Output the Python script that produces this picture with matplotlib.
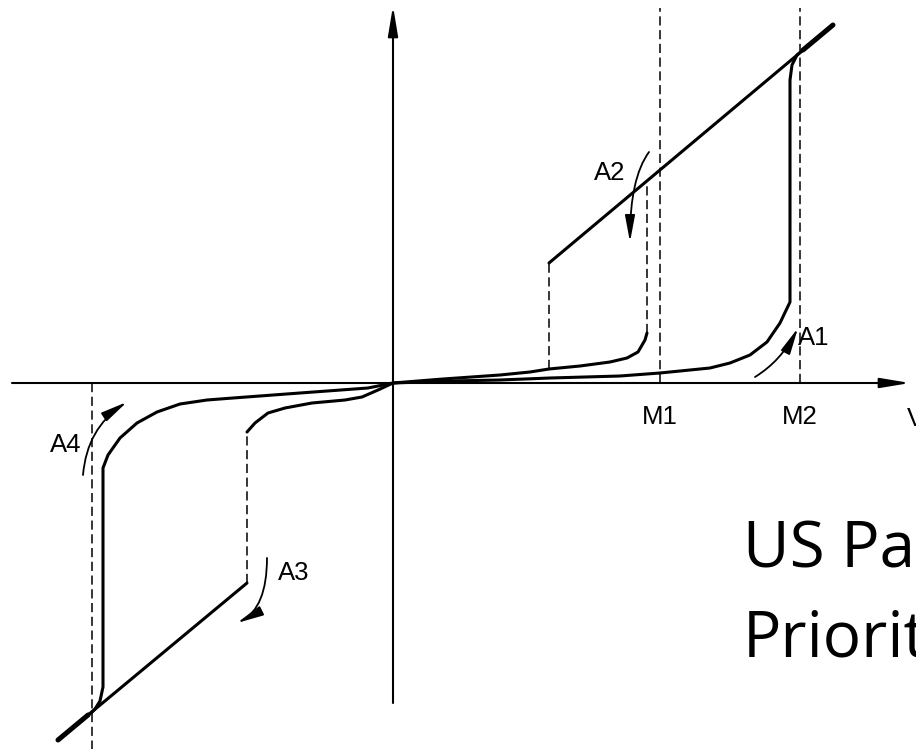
import numpy as np
import matplotlib.pyplot as plt
from matplotlib.patches import FancyArrowPatch
from matplotlib.path import Path

# --- данные кривой гистерезиса (условные единицы, начало координат в 0,0) ---
M1 = 2.67
M2 = 4.07
M_LEFT = -3.01

# верхняя прямая (правая петля)
upper_line_x = [1.56, 4.40]
upper_line_y = [1.20, 3.58]

# большая правая петля
right_outer_x = [0.0, 0.57, 1.07, 1.57, 2.27, 2.67, 2.97, 3.17, 3.37, 3.57, 3.74, 3.87, 3.97,
                 3.97, 3.99, 4.04, 4.10, 4.40]
right_outer_y = [0.0, 0.02, 0.03, 0.05, 0.07, 0.10, 0.13, 0.15, 0.20, 0.28, 0.41, 0.60, 0.81,
                 3.03, 3.18, 3.28, 3.33, 3.58]

# малая правая петля
right_inner_x = [0.0, 0.50, 1.07, 1.37, 1.56, 1.87, 2.17, 2.34, 2.45, 2.52, 2.54]
right_inner_y = [0.0, 0.04, 0.08, 0.11, 0.14, 0.17, 0.21, 0.25, 0.31, 0.43, 0.50]

# нижняя прямая (левая петля)
lower_line_x = [-3.35, -1.46]
lower_line_y = [-3.57, -2.00]

# большая левая петля
left_outer_x = [0.0, -0.25, -0.93, -1.60, -1.86, -2.13, -2.36, -2.56, -2.73, -2.85, -2.90,
                -2.90, -2.93, -2.98, -3.01, -3.35]
left_outer_y = [0.0, -0.05, -0.10, -0.15, -0.17, -0.21, -0.29, -0.40, -0.55, -0.72, -0.85,
                -3.04, -3.18, -3.26, -3.29, -3.57]

# малая левая петля
left_inner_x = [-1.46, -1.38, -1.25, -1.08, -0.81, -0.48, -0.31, -0.15, 0.0]
left_inner_y = [-0.49, -0.40, -0.30, -0.25, -0.20, -0.17, -0.14, -0.07, 0.0]

# подписи
labels = ["A1", "A2", "A3", "A4", "M1", "M2", "V"]
label_x = [4.21, 2.17, -0.99, -3.27, M1, M2, 5.14]
label_y = [0.45, 2.10, -1.90, -0.62, -0.34, -0.34, -0.36]

# стрелки направлений (начало, контрольная точка, конец)
dir_arrows = {
    "A1": [(3.62, 0.06), (3.88, 0.22), (4.05, 0.55)],
    "A2": [(2.56, 2.31), (2.37, 2.05), (2.37, 1.41)],
    "A3": [(-1.26, -1.75), (-1.26, -2.25), (-1.56, -2.40)],
    "A4": [(-3.10, -0.92), (-3.06, -0.45), (-2.66, -0.19)],
}

XLIM = (-3.93, 5.23)
YLIM = (-3.66, 3.83)

# === РИСУНОК ===
fig = plt.figure(figsize=(9.16, 7.49), dpi=100)
ax = fig.add_axes([0, 0, 1, 1])
ax.set_xlim(*XLIM)
ax.set_ylim(*YLIM)
ax.axis("off")

# оси со стрелками
for (x0, y0), (x1, y1) in [((-3.81, 0), (5.17, 0)), ((0, -3.20), (0, 3.77))]:
    ax.add_patch(FancyArrowPatch((x0, y0), (x1, y1),
                                 arrowstyle="-|>,head_length=1.8,head_width=0.3",
                                 mutation_scale=10, lw=1.5, color="black",
                                 shrinkA=0, shrinkB=0))

# пунктирные вертикали
dash_kw = dict(color="black", lw=1.1, dashes=(6, 3))
ax.plot([M1, M1], [0, 3.75], **dash_kw)
ax.plot([M2, M2], [0, 3.75], **dash_kw)
ax.plot([M_LEFT, M_LEFT], [0, YLIM[0]], **dash_kw)
ax.plot([upper_line_x[0], upper_line_x[0]], [right_inner_y[4], upper_line_y[0]], **dash_kw)
ax.plot([right_inner_x[-1], right_inner_x[-1]], [right_inner_y[-1], 2.02], **dash_kw)
ax.plot([lower_line_x[1], lower_line_x[1]], [lower_line_y[1], left_inner_y[0]], **dash_kw)

# сплошные кривые
curve_kw = dict(color="black", lw=2.2, solid_capstyle="round", solid_joinstyle="round")
ax.plot(upper_line_x, upper_line_y, **curve_kw)
ax.plot(right_outer_x, right_outer_y, **curve_kw)
ax.plot(right_inner_x, right_inner_y, **curve_kw)
ax.plot(lower_line_x, lower_line_y, **curve_kw)
ax.plot(left_outer_x, left_outer_y, **curve_kw)
ax.plot(left_inner_x, left_inner_y, **curve_kw)

# утолщённые концы прямых
ax.plot([4.10, 4.40], [3.33, 3.58], color="black", lw=3.6, solid_capstyle="round")
ax.plot([-3.35, -3.05], [-3.57, -3.32], color="black", lw=3.6, solid_capstyle="round")

# стрелки направлений
for name, pts in dir_arrows.items():
    path = Path(pts, [Path.MOVETO, Path.CURVE3, Path.CURVE3])
    ax.add_patch(FancyArrowPatch(path=path,
                                 arrowstyle="-|>,head_length=1.6,head_width=0.3",
                                 mutation_scale=10, lw=1.3, color="black",
                                 shrinkA=0, shrinkB=0))

for txt, x, y in zip(labels, label_x, label_y):
    ha = "left" if txt == "V" else "center"
    ax.text(x, y, txt, fontsize=18.5, family="Liberation Sans",
            ha=ha, va="center", color="black")

# надпись
ax.text(3.50, -1.84, "US Patent", fontsize=46, family="Open Sans",
        ha="left", va="baseline")
ax.text(3.50, -2.74, "Priority", fontsize=46, family="Open Sans",
        ha="left", va="baseline")

plt.savefig("out.png", dpi=100)
